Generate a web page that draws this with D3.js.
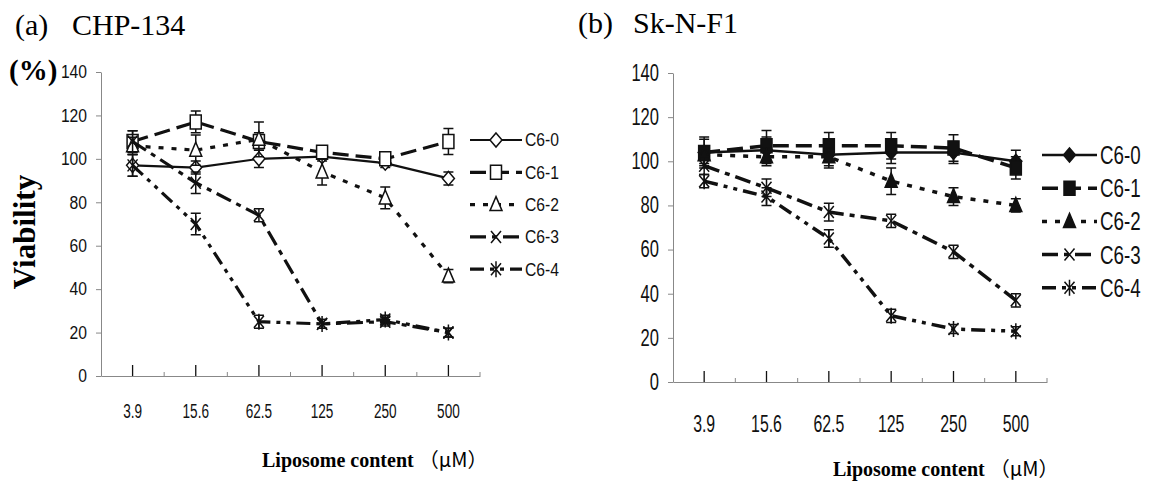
<!DOCTYPE html>
<html lang="en">
<head>
  <meta charset="UTF-8">
  <title>Viability vs liposome content</title>
  <script src="https://d3js.org/d3.v7.min.js"></script>
  <style>
    body { margin: 0; background: #fff; }
    svg { display: block; }
    .serif { font-family: "Liberation Serif", "Times New Roman", serif; }
    .narrow { font-family: "Liberation Sans", Arial, sans-serif; }
  </style>
</head>
<body>
<svg id="chart" width="1150" height="483"></svg>
<script>
const doses = ["3.9", "15.6", "62.5", "125", "250", "500"];
const seriesNames = ["C6-0", "C6-1", "C6-2", "C6-3", "C6-4"];
const yTicks = [0, 20, 40, 60, 80, 100, 120, 140];

// (a) CHP-134
const chpC60 = [97, 96, 100, 101, 98, 91];
const chpC61 = [108, 117, 108, 103, 100, 108];
const chpC62 = [106, 104, 109, 94, 82, 46];
const chpC63 = [108, 89, 74, 24, 25, 20];
const chpC64 = [97, 70, 25, 24, 26, 20];
const chpErr60 = [5, 3, 4, 2, 2, 3];
const chpErr61 = [5, 5, 4, 3, 3, 6];
const chpErr62 = [4, 7, 8, 6, 5, 3];
const chpErr63 = [5, 5, 3, 2, 2, 2];
const chpErr64 = [5, 5, 3, 2, 2, 2];

// (b) Sk-N-F1
const skC60 = [104, 105, 103, 104, 104, 100];
const skC61 = [104, 107, 107, 107, 106, 97];
const skC62 = [103, 102, 102, 91, 84, 80];
const skC63 = [98, 88, 77, 73, 59, 37];
const skC64 = [91, 84, 65, 30, 24, 23];
const skErr60 = [6, 6, 6, 5, 5, 5];
const skErr61 = [7, 7, 6, 6, 6, 5];
const skErr62 = [4, 4, 4, 6, 4, 3];
const skErr63 = [4, 4, 4, 3, 3, 3];
const skErr64 = [3, 4, 4, 3, 2, 2];

const svg = d3.select("#chart");

const shapes = ["diamond", "square", "triangle", "cross", "star"];
const dashes = [null, "16,7", "5,8", "16,6,5,6", "14,6,4,6,4,6"];

function markerPath(kind) {
  switch (kind) {
    case "diamond": return "M0,-7L6,0L0,7L-6,0Z";
    case "square": return "M-5.5,-7H5.5V7H-5.5Z";
    case "triangle": return "M0,-8L6,6H-6Z";
    case "cross": return "M-5,-6L5,6M-5,6L5,-6";
    case "star": return "M-5,-6L5,6M-5,6L5,-6M0,-8V8";
  }
}

function drawMarker(g, kind, filled, x, y) {
  const closed = kind === "diamond" || kind === "square" || kind === "triangle";
  g.append("path")
    .attr("d", markerPath(kind))
    .attr("transform", `translate(${x},${y})`)
    .attr("fill", closed ? (filled ? "#111" : "#fff") : "none")
    .attr("stroke", "#111")
    .attr("stroke-width", 1.5);
}

function narrow(sel, sx) {
  sel.attr("transform", `scale(${sx},1)`);
}

function drawPanel(p) {
  const g = svg.append("g");

  const x = d3.scaleBand().domain(doses).range(p.xRange);
  const y = d3.scaleLinear().domain([0, 140]).range(p.yRange);
  const cx = d => x(d) + x.bandwidth() / 2;

  // y axis
  const yAx = g.append("g")
    .attr("transform", `translate(${p.xRange[0]},0)`)
    .call(d3.axisLeft(y).tickValues(yTicks).tickSizeOuter(0).tickSizeInner(5).tickPadding(9));
  yAx.select(".domain").attr("stroke", "#888");
  yAx.selectAll(".tick line").attr("stroke", "#888");
  yAx.selectAll(".tick text")
    .attr("class", "narrow")
    .attr("font-size", p.yFont)
    .attr("fill", "#111")
    .attr("x", -14 / p.ySx)
    .call(narrow, p.ySx);

  // x axis, major ticks pointing up
  const xAx = g.append("g")
    .attr("transform", `translate(0,${p.yRange[0]})`)
    .call(d3.axisBottom(x).tickSizeInner(-p.tickLen).tickSizeOuter(0).tickPadding(p.xPad));
  xAx.select(".domain").attr("stroke", "#888");
  xAx.selectAll(".tick line").attr("stroke", "#111").attr("stroke-width", 1.3);
  xAx.selectAll(".tick text")
    .attr("class", "narrow")
    .attr("font-size", p.xFont)
    .attr("fill", "#111")
    .call(narrow, p.xSx);

  // minor ticks on band boundaries
  const bounds = doses.map(d => x(d)).concat([x.range()[1]]);
  g.append("g").selectAll("line")
    .data(bounds.slice(1))
    .join("line")
    .attr("x1", d => d).attr("x2", d => d)
    .attr("y1", p.yRange[0]).attr("y2", p.yRange[0] - 4)
    .attr("stroke", "#888");

  // series
  p.series.forEach((s, i) => {
    const sg = g.append("g");
    const line = d3.line().x((v, j) => cx(doses[j])).y(v => y(v));
    sg.append("path")
      .datum(s.values)
      .attr("d", line)
      .attr("fill", "none")
      .attr("stroke", "#111")
      .attr("stroke-width", i === 0 ? p.solidW : p.dashW)
      .attr("stroke-dasharray", dashes[i]);

    s.values.forEach((v, j) => {
      const xx = cx(doses[j]);
      const e = s.err[j];
      sg.append("path")
        .attr("d", `M${xx},${y(v - e)}V${y(v + e)}M${xx - 5},${y(v - e)}H${xx + 5}M${xx - 5},${y(v + e)}H${xx + 5}`)
        .attr("stroke", "#111")
        .attr("stroke-width", 1.5)
        .attr("fill", "none");
      drawMarker(sg, shapes[i], p.filled, xx, y(v));
    });
  });

  // legend
  const lg = g.append("g");
  seriesNames.forEach((name, i) => {
    const ly = p.legend.y + i * p.legend.step;
    lg.append("line")
      .attr("x1", p.legend.x).attr("x2", p.legend.x + p.legend.len)
      .attr("y1", ly).attr("y2", ly)
      .attr("stroke", "#111")
      .attr("stroke-width", i === 0 ? p.solidW : p.dashW)
      .attr("stroke-dasharray", dashes[i]);
    drawMarker(lg, shapes[i], p.filled, p.legend.x + p.legend.len / 2, ly);
    lg.append("text")
      .attr("class", "narrow")
      .attr("font-size", p.legend.font)
      .attr("fill", "#111")
      .attr("x", (p.legend.x + p.legend.len + 3) / p.legend.sx)
      .attr("y", ly + p.legend.font * 0.36)
      .attr("transform", `scale(${p.legend.sx},1)`)
      .text(name);
  });

  // titles
  g.append("text").attr("class", "serif")
    .attr("x", p.tagX).attr("y", p.titleY).attr("font-size", 30)
    .text(p.tag);
  g.append("text").attr("class", "serif")
    .attr("x", p.titleX).attr("y", p.titleY).attr("font-size", 30)
    .text(p.title);

  // x axis title
  const xt = g.append("text")
    .attr("x", p.xTitleX).attr("y", p.xTitleY)
    .attr("font-size", 20);
  xt.append("tspan").attr("class", "serif").attr("font-weight", "bold").text("Liposome content ");
  xt.append("tspan").attr("font-family", "'Noto Sans CJK JP', sans-serif").text("（μM）");
}

drawPanel({
  xRange: [101, 480], yRange: [376, 72],
  yFont: 18, ySx: 0.87, xFont: 20, xSx: 0.68, xPad: 28, tickLen: 11,
  solidW: 2.2, dashW: 3.2, filled: false,
  series: [
    { values: chpC60, err: chpErr60 },
    { values: chpC61, err: chpErr61 },
    { values: chpC62, err: chpErr62 },
    { values: chpC63, err: chpErr63 },
    { values: chpC64, err: chpErr64 }
  ],
  legend: { x: 470, len: 52, y: 140, step: 32.3, font: 18, sx: 0.87 },
  tag: "(a)", tagX: 15, title: "CHP-134", titleX: 72, titleY: 35,
  xTitleX: 262, xTitleY: 467
});

drawPanel({
  xRange: [673, 1047], yRange: [382, 73],
  yFont: 23, ySx: 0.72, xFont: 24, xSx: 0.66, xPad: 33, tickLen: 11,
  solidW: 2.5, dashW: 3.5, filled: true,
  series: [
    { values: skC60, err: skErr60 },
    { values: skC61, err: skErr61 },
    { values: skC62, err: skErr62 },
    { values: skC63, err: skErr63 },
    { values: skC64, err: skErr64 }
  ],
  legend: { x: 1042, len: 55, y: 155, step: 33.2, font: 25, sx: 0.75 },
  tag: "(b)", tagX: 578, title: "Sk-N-F1", titleX: 633, titleY: 33,
  xTitleX: 833, xTitleY: 476
});

// left-side labels
svg.append("text").attr("class", "serif")
  .attr("x", 9).attr("y", 80)
  .attr("font-size", 29).attr("font-weight", "bold")
  .text("(%)");

svg.append("text").attr("class", "serif")
  .attr("transform", "translate(35,232) rotate(-90)")
  .attr("text-anchor", "middle")
  .attr("font-size", 31).attr("font-weight", "bold")
  .text("Viability");
</script>
</body>
</html>
